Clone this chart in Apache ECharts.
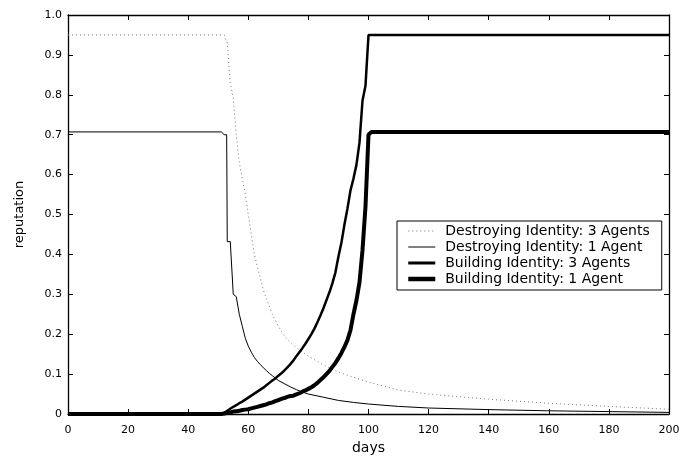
<!DOCTYPE html>
<html>
<head>
<meta charset="utf-8">
<script src="https://cdn.jsdelivr.net/npm/echarts@6/dist/echarts.min.js"></script>
<style>
  html, body { margin: 0; padding: 0; background: #fff; }
  #chart { width: 682px; height: 457px; }
</style>
</head>
<body>
<div id="chart"></div>
<script>
// 图例名称
var names = ['Destroying Identity: 3 Agents', 'Destroying Identity: 1 Agent',
             'Building Identity: 3 Agents', 'Building Identity: 1 Agent'];

// 刻度
var xTicks = [0, 20, 40, 60, 80, 100, 120, 140, 160, 180, 200];
var yTicks = [0, 0.1, 0.2, 0.3, 0.4, 0.5, 0.6, 0.7, 0.8, 0.9, 1.0];

// Destroying Identity: 3 Agents (点线)
var destroy3Days = [0, 52, 53, 54, 55, 56, 57, 58, 59, 60, 61, 62, 63, 64, 65, 66, 68, 70, 72, 75, 78, 80,
                    85, 90, 95, 100, 110, 120, 140, 160, 180, 200];
var destroy3Vals = [0.95, 0.95, 0.93, 0.83, 0.79, 0.70, 0.63, 0.59, 0.55, 0.50, 0.45, 0.40, 0.37, 0.34, 0.31, 0.29,
                    0.25, 0.22, 0.195, 0.172, 0.155, 0.145, 0.123, 0.105, 0.092, 0.08, 0.06, 0.05, 0.037,
                    0.027, 0.019, 0.012];

// Destroying Identity: 1 Agent (细线)
var destroy1Days = [0, 51, 52, 52.8, 53, 54, 55, 56, 57, 58, 59, 60, 61, 62, 63, 64, 65, 66, 67, 68, 69, 70, 72,
                    74, 76, 78, 80, 85, 90, 95, 100, 110, 120, 140, 160, 180, 200];
var destroy1Vals = [0.707, 0.707, 0.700, 0.700, 0.432, 0.432, 0.300, 0.294, 0.250, 0.220, 0.190, 0.170, 0.155,
                    0.142, 0.132, 0.124, 0.116, 0.109, 0.102, 0.096, 0.090, 0.084, 0.076, 0.068, 0.061, 0.055,
                    0.050, 0.042, 0.034, 0.029, 0.025, 0.019, 0.015, 0.011, 0.008, 0.006, 0.004];

// Building Identity: 3 Agents (粗线)
var build3Days = [0, 51, 52, 53, 54, 55, 56, 57, 58, 59, 60, 61, 62, 63, 64, 65, 66, 67, 68, 69, 70, 71, 72, 73,
                  74, 75, 76, 77, 78, 79, 80, 81, 82, 83, 84, 85, 86, 87, 88, 89, 90, 91, 92, 93, 94, 95, 96,
                  97, 98, 99, 100, 101, 200];
var build3Vals = [0, 0, 0.003, 0.008, 0.013, 0.018, 0.022, 0.027, 0.031, 0.036, 0.041, 0.046, 0.051, 0.056,
                  0.061, 0.066, 0.072, 0.078, 0.084, 0.089, 0.096, 0.102, 0.109, 0.117, 0.125, 0.134, 0.145,
                  0.155, 0.165, 0.176, 0.188, 0.200, 0.214, 0.230, 0.247, 0.265, 0.285, 0.305, 0.328, 0.355,
                  0.395, 0.430, 0.475, 0.515, 0.560, 0.590, 0.625, 0.680, 0.785, 0.823, 0.95, 0.95, 0.95];

// Building Identity: 1 Agent (最粗线)
var build1Days = [0, 51, 52, 53, 54, 55, 56, 57, 58, 59, 60, 61, 62, 63, 64, 65, 66, 67, 68, 69, 70, 71, 72, 73,
                  74, 75, 76, 77, 78, 79, 80, 81, 82, 83, 84, 85, 86, 87, 88, 89, 90, 91, 92, 93, 94, 95, 96,
                  97, 98, 99, 100, 101, 200];
var build1Vals = [0, 0, 0.001, 0.003, 0.004, 0.006, 0.007, 0.008, 0.010, 0.011, 0.012, 0.014, 0.016, 0.018,
                  0.020, 0.022, 0.024, 0.027, 0.029, 0.032, 0.035, 0.038, 0.040, 0.043, 0.045, 0.046, 0.049,
                  0.052, 0.056, 0.059, 0.063, 0.067, 0.072, 0.078, 0.085, 0.092, 0.100, 0.108, 0.118, 0.128,
                  0.140, 0.153, 0.168, 0.185, 0.210, 0.250, 0.285, 0.330, 0.410, 0.520, 0.700, 0.707, 0.707];

function pairs(days, vals) {
    return days.map(function (d, i) { return [d, vals[i]]; });
}

var chart = echarts.init(document.getElementById('chart'));
var font = 'DejaVu Sans';

// 线型
var lineStyles = [
    { color: '#777', width: 1, type: [1, 3] },
    { color: '#000', width: 1, type: 'solid' },
    { color: '#000', width: 2.5, type: 'solid' },
    { color: '#000', width: 4, type: 'solid' }
];
var legendWidths = [1, 1, 3, 4.5];

var tickStyle = { inside: true, length: 5, lineStyle: { color: '#000', width: 1 } };
var axisLineStyle = { show: true, onZero: false, lineStyle: { color: '#000', width: 1.3 } };

var option = {
    animation: false,
    backgroundColor: '#fff',
    textStyle: { fontFamily: font },
    grid: { left: 68, right: 13, top: 15, bottom: 43, containLabel: false, outerBoundsMode: 'none' },
    legend: {
        orient: 'vertical',
        left: 397,
        top: 221,
        padding: [3, 12, 4, 9],
        itemGap: 2,
        itemWidth: 27,
        itemHeight: 14,
        borderColor: '#000',
        borderWidth: 1,
        backgroundColor: '#fff',
        itemStyle: { color: 'rgba(0,0,0,0)', borderWidth: 0, opacity: 0 },
        textStyle: { fontFamily: font, fontSize: 14, color: '#000', padding: [0, 0, 0, 5] },
        data: names.map(function (n, i) {
            return {
                name: n,
                lineStyle: { color: lineStyles[i].color, width: legendWidths[i], type: lineStyles[i].type }
            };
        })
    },
    xAxis: [{
        type: 'value', min: 0, max: 200, interval: 20,
        name: 'days', nameLocation: 'middle', nameGap: 23,
        nameTextStyle: { fontFamily: font, fontSize: 14, color: '#000' },
        axisLine: axisLineStyle, axisTick: tickStyle,
        axisLabel: { fontFamily: font, fontSize: 11, color: '#000', margin: 11,
            customValues: xTicks },
        splitLine: { show: false }
    }, {
        type: 'value', min: 0, max: 200, interval: 20, position: 'top',
        axisLine: axisLineStyle, axisTick: tickStyle,
        axisLabel: { show: false }, splitLine: { show: false }
    }],
    yAxis: [{
        type: 'value', min: 0, max: 1, interval: 0.1,
        name: 'reputation', nameLocation: 'middle', nameGap: 42, nameRotate: 90,
        nameTextStyle: { fontFamily: font, fontSize: 13, color: '#000' },
        axisLine: axisLineStyle, axisTick: tickStyle,
        axisLabel: { fontFamily: font, fontSize: 11, color: '#000', margin: 6,
            formatter: function (v) { return v === 0 ? '0' : v.toFixed(1); } },
        splitLine: { show: false }
    }, {
        type: 'value', min: 0, max: 1, interval: 0.1, position: 'right',
        axisLine: axisLineStyle, axisTick: tickStyle,
        axisLabel: { show: false }, splitLine: { show: false }
    }],
    series: [{
        name: names[0], type: 'line', symbol: 'none',
        lineStyle: lineStyles[0], itemStyle: { color: lineStyles[0].color },
        data: pairs(destroy3Days, destroy3Vals)
    }, {
        name: names[1], type: 'line', symbol: 'none',
        lineStyle: lineStyles[1], itemStyle: { color: lineStyles[1].color },
        data: pairs(destroy1Days, destroy1Vals)
    }, {
        name: names[2], type: 'line', symbol: 'none',
        lineStyle: lineStyles[2], itemStyle: { color: lineStyles[2].color },
        data: pairs(build3Days, build3Vals)
    }, {
        name: names[3], type: 'line', symbol: 'none',
        lineStyle: lineStyles[3], itemStyle: { color: lineStyles[3].color },
        data: pairs(build1Days, build1Vals)
    }]
};

chart.setOption(option);
</script>
</body>
</html>
